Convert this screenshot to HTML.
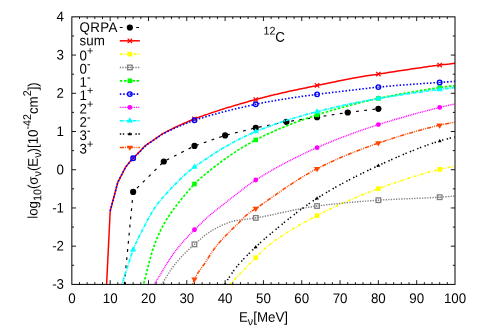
<!DOCTYPE html>
<html><head><meta charset="utf-8"><title>12C</title>
<style>html,body{margin:0;padding:0;background:#fff;}body{width:479px;height:335px;overflow:hidden;position:relative;font-family:"Liberation Sans",sans-serif;}</style>
</head><body>
<svg width="479" height="335" viewBox="0 0 479 335" style="position:absolute;left:0;top:0;will-change:transform">
<defs><clipPath id="cp"><rect x="71.85" y="16.85" width="383.15" height="267.55"/></clipPath></defs>
<rect x="0" y="0" width="479" height="335" fill="#fff"/>
<path d="M79.51 284.4v-2.2M79.51 16.85v2.2M87.18 284.4v-2.2M87.18 16.85v2.2M94.84 284.4v-2.2M94.84 16.85v2.2M102.50 284.4v-2.2M102.50 16.85v2.2M110.16 284.4v-4.2M110.16 16.85v4.2M117.83 284.4v-2.2M117.83 16.85v2.2M125.49 284.4v-2.2M125.49 16.85v2.2M133.15 284.4v-2.2M133.15 16.85v2.2M140.82 284.4v-2.2M140.82 16.85v2.2M148.48 284.4v-4.2M148.48 16.85v4.2M156.14 284.4v-2.2M156.14 16.85v2.2M163.81 284.4v-2.2M163.81 16.85v2.2M171.47 284.4v-2.2M171.47 16.85v2.2M179.13 284.4v-2.2M179.13 16.85v2.2M186.79 284.4v-4.2M186.79 16.85v4.2M194.46 284.4v-2.2M194.46 16.85v2.2M202.12 284.4v-2.2M202.12 16.85v2.2M209.78 284.4v-2.2M209.78 16.85v2.2M217.45 284.4v-2.2M217.45 16.85v2.2M225.11 284.4v-4.2M225.11 16.85v4.2M232.77 284.4v-2.2M232.77 16.85v2.2M240.44 284.4v-2.2M240.44 16.85v2.2M248.10 284.4v-2.2M248.10 16.85v2.2M255.76 284.4v-2.2M255.76 16.85v2.2M263.42 284.4v-4.2M263.42 16.85v4.2M271.09 284.4v-2.2M271.09 16.85v2.2M278.75 284.4v-2.2M278.75 16.85v2.2M286.41 284.4v-2.2M286.41 16.85v2.2M294.08 284.4v-2.2M294.08 16.85v2.2M301.74 284.4v-4.2M301.74 16.85v4.2M309.40 284.4v-2.2M309.40 16.85v2.2M317.07 284.4v-2.2M317.07 16.85v2.2M324.73 284.4v-2.2M324.73 16.85v2.2M332.39 284.4v-2.2M332.39 16.85v2.2M340.05 284.4v-4.2M340.05 16.85v4.2M347.72 284.4v-2.2M347.72 16.85v2.2M355.38 284.4v-2.2M355.38 16.85v2.2M363.04 284.4v-2.2M363.04 16.85v2.2M370.71 284.4v-2.2M370.71 16.85v2.2M378.37 284.4v-4.2M378.37 16.85v4.2M386.03 284.4v-2.2M386.03 16.85v2.2M393.70 284.4v-2.2M393.70 16.85v2.2M401.36 284.4v-2.2M401.36 16.85v2.2M409.02 284.4v-2.2M409.02 16.85v2.2M416.68 284.4v-4.2M416.68 16.85v4.2M424.35 284.4v-2.2M424.35 16.85v2.2M432.01 284.4v-2.2M432.01 16.85v2.2M439.67 284.4v-2.2M439.67 16.85v2.2M447.34 284.4v-2.2M447.34 16.85v2.2M71.85 265.29h2.2M455.0 265.29h-2.2M71.85 246.18h4.2M455.0 246.18h-4.2M71.85 227.07h2.2M455.0 227.07h-2.2M71.85 207.96h4.2M455.0 207.96h-4.2M71.85 188.85h2.2M455.0 188.85h-2.2M71.85 169.74h4.2M455.0 169.74h-4.2M71.85 150.62h2.2M455.0 150.62h-2.2M71.85 131.51h4.2M455.0 131.51h-4.2M71.85 112.40h2.2M455.0 112.40h-2.2M71.85 93.29h4.2M455.0 93.29h-4.2M71.85 74.18h2.2M455.0 74.18h-2.2M71.85 55.07h4.2M455.0 55.07h-4.2M71.85 35.96h2.2M455.0 35.96h-2.2" stroke="#000" stroke-width="0.9" fill="none"/>
<polyline clip-path="url(#cp)" fill="none" stroke-linejoin="round" points="124.3,284.5 133.2,191.9 163.8,161.5 194.5,145.9 225.1,135.4 255.8,127.8 286.4,121.8 317.1,117.2 347.7,112.5 378.4,108.8" stroke="#000" stroke-width="1.2" stroke-dasharray="2.8,5.4"/>
<circle cx="133.15" cy="191.89" r="3.1" fill="#000"/><circle cx="163.81" cy="161.49" r="3.1" fill="#000"/><circle cx="194.46" cy="145.91" r="3.1" fill="#000"/><circle cx="225.11" cy="135.38" r="3.1" fill="#000"/><circle cx="255.76" cy="127.80" r="3.1" fill="#000"/><circle cx="286.41" cy="121.79" r="3.1" fill="#000"/><circle cx="317.07" cy="117.19" r="3.1" fill="#000"/><circle cx="347.72" cy="112.52" r="3.1" fill="#000"/><circle cx="378.37" cy="108.81" r="3.1" fill="#000"/>
<polyline clip-path="url(#cp)" fill="none" stroke-linejoin="round" points="102.5,361.1 106.6,284.5 110.2,211.0 117.8,182.3 125.5,167.3 127.4,164.9 129.3,162.6 131.2,160.3 133.2,158.2 135.1,156.2 137.0,154.3 138.9,152.4 140.8,150.5 142.7,148.3 144.6,146.3 146.6,144.7 148.5,143.3 150.4,142.1 152.3,140.9 154.2,139.5 156.1,138.2 158.1,136.8 160.0,135.5 161.9,134.2 163.8,133.1 165.7,132.1 167.6,131.1 169.6,130.1 171.5,129.1 173.4,128.2 175.3,127.3 177.2,126.4 179.1,125.5 181.0,124.7 183.0,123.8 184.9,123.0 186.8,122.2 188.7,121.3 190.6,120.5 192.5,119.7 194.5,118.9 196.4,118.2 198.3,117.5 200.2,116.8 202.1,116.1 204.0,115.4 206.0,114.7 207.9,114.1 209.8,113.4 211.7,112.8 213.6,112.1 215.5,111.5 217.4,110.9 219.4,110.2 221.3,109.6 223.2,109.0 225.1,108.4 227.0,107.8 228.9,107.2 230.9,106.7 232.8,106.1 234.7,105.5 236.6,104.9 238.5,104.4 240.4,103.8 242.4,103.3 244.3,102.7 246.2,102.2 248.1,101.6 250.0,101.1 251.9,100.6 253.8,100.0 255.8,99.5 257.7,99.0 259.6,98.5 261.5,98.0 263.4,97.5 265.3,97.0 267.3,96.5 269.2,96.0 271.1,95.5 273.0,95.1 274.9,94.6 276.8,94.2 278.8,93.7 280.7,93.3 282.6,92.8 284.5,92.4 286.4,92.0 288.3,91.5 290.2,91.1 292.2,90.7 294.1,90.3 296.0,89.9 297.9,89.5 299.8,89.1 301.7,88.7 303.7,88.3 305.6,87.9 307.5,87.5 309.4,87.1 311.3,86.7 313.2,86.3 315.2,85.9 317.1,85.5 319.0,85.1 320.9,84.7 322.8,84.3 324.7,83.9 326.6,83.5 328.6,83.1 330.5,82.7 332.4,82.3 334.3,81.9 336.2,81.5 338.1,81.1 340.1,80.7 342.0,80.3 343.9,79.9 345.8,79.5 347.7,79.2 349.6,78.8 351.5,78.4 353.5,78.1 355.4,77.7 357.3,77.4 359.2,77.1 361.1,76.7 363.0,76.4 365.0,76.1 366.9,75.8 368.8,75.5 370.7,75.2 372.6,74.9 374.5,74.7 376.5,74.4 378.4,74.1 380.3,73.8 382.2,73.5 384.1,73.2 386.0,72.9 387.9,72.6 389.9,72.3 391.8,72.0 393.7,71.7 395.6,71.4 397.5,71.1 399.4,70.8 401.4,70.6 403.3,70.3 405.2,70.0 407.1,69.7 409.0,69.4 410.9,69.1 412.9,68.8 414.8,68.5 416.7,68.2 418.6,68.0 420.5,67.7 422.4,67.4 424.3,67.1 426.3,66.9 428.2,66.6 430.1,66.3 432.0,66.1 433.9,65.8 435.8,65.6 437.8,65.3 439.7,65.1 441.6,64.8 443.5,64.6 445.4,64.4 447.3,64.2 449.3,64.0 451.2,63.7 453.1,63.5 455.0,63.3" stroke="#ff0000" stroke-width="1.5"/>
<path d="M130.95 155.96L135.35 160.36M130.95 160.36L135.35 155.96" stroke="#ff0000" stroke-width="1.2" fill="none"/><path d="M192.26 116.71L196.66 121.11M192.26 121.11L196.66 116.71" stroke="#ff0000" stroke-width="1.2" fill="none"/><path d="M253.56 97.30L257.96 101.70M253.56 101.70L257.96 97.30" stroke="#ff0000" stroke-width="1.2" fill="none"/><path d="M314.87 83.29L319.27 87.69M314.87 87.69L319.27 83.29" stroke="#ff0000" stroke-width="1.2" fill="none"/><path d="M376.17 71.88L380.57 76.28M376.17 76.28L380.57 71.88" stroke="#ff0000" stroke-width="1.2" fill="none"/><path d="M437.47 62.88L441.87 67.28M437.47 67.28L441.87 62.88" stroke="#ff0000" stroke-width="1.2" fill="none"/>
<polyline clip-path="url(#cp)" fill="none" stroke-linejoin="round" points="214.8,299.8 216.7,297.8 218.7,295.9 220.6,293.9 222.5,291.9 224.4,290.0 226.3,288.0 228.2,286.0 230.1,284.0 232.1,282.1 234.0,280.1 235.9,278.1 237.8,276.1 239.7,274.1 241.6,272.1 243.6,270.1 245.5,268.2 247.4,266.2 249.3,264.2 251.2,262.3 253.1,260.3 255.1,258.4 257.0,256.5 258.9,254.5 260.8,252.6 262.7,250.6 264.6,248.8 266.5,247.1 268.5,245.6 270.4,244.1 272.3,242.6 274.2,241.2 276.1,239.8 278.0,238.5 280.0,237.2 281.9,235.9 283.8,234.6 285.7,233.3 287.6,232.1 289.5,230.9 291.4,229.8 293.4,228.6 295.3,227.5 297.2,226.4 299.1,225.3 301.0,224.2 302.9,223.1 304.9,222.1 306.8,221.0 308.7,220.0 310.6,219.0 312.5,218.0 314.4,216.9 316.4,216.0 318.3,215.0 320.2,214.0 322.1,213.0 324.0,212.1 325.9,211.1 327.8,210.2 329.8,209.2 331.7,208.3 333.6,207.4 335.5,206.5 337.4,205.6 339.3,204.7 341.3,203.9 343.2,203.0 345.1,202.1 347.0,201.3 348.9,200.5 350.8,199.6 352.8,198.8 354.7,198.0 356.6,197.2 358.5,196.4 360.4,195.6 362.3,194.8 364.2,194.1 366.2,193.3 368.1,192.6 370.0,191.8 371.9,191.1 373.8,190.4 375.7,189.6 377.7,188.9 379.6,188.2 381.5,187.5 383.4,186.8 385.3,186.1 387.2,185.5 389.2,184.8 391.1,184.1 393.0,183.4 394.9,182.8 396.8,182.1 398.7,181.5 400.6,180.8 402.6,180.2 404.5,179.6 406.4,178.9 408.3,178.3 410.2,177.7 412.1,177.1 414.1,176.5 416.0,175.9 417.9,175.3 419.8,174.8 421.7,174.2 423.6,173.6 425.6,173.1 427.5,172.6 429.4,172.0 431.3,171.5 433.2,171.0 435.1,170.5 437.0,170.0 439.0,169.5 440.9,169.1 442.8,168.6 444.7,168.2 446.6,167.8 448.5,167.4 450.5,167.0 452.4,166.6 454.3,166.3 455.0,166.1" stroke="#ffff00" stroke-width="1.6" stroke-dasharray="3,1.5,1,1.5"/>
<rect x="253.46" y="255.40" width="4.6" height="4.6" fill="#ffff00"/><rect x="314.77" y="213.29" width="4.6" height="4.6" fill="#ffff00"/><rect x="376.07" y="186.37" width="4.6" height="4.6" fill="#ffff00"/><rect x="437.37" y="167.07" width="4.6" height="4.6" fill="#ffff00"/>
<polyline clip-path="url(#cp)" fill="none" stroke-linejoin="round" points="151.3,299.8 153.2,296.9 155.1,294.1 157.0,291.2 159.0,288.3 160.9,285.5 162.8,282.6 164.7,279.6 166.6,276.5 168.5,273.5 170.4,270.5 172.4,267.7 174.3,265.1 176.2,262.7 178.1,260.5 180.0,258.4 181.9,256.3 183.9,254.3 185.8,252.4 187.7,250.5 189.6,248.8 191.5,247.0 193.4,245.3 195.4,243.6 197.3,241.9 199.2,240.2 201.1,238.6 203.0,237.0 204.9,235.4 206.8,234.0 208.8,232.6 210.7,231.3 212.6,230.2 214.5,229.1 216.4,228.0 218.3,227.0 220.3,226.1 222.2,225.1 224.1,224.3 226.0,223.5 227.9,222.7 229.8,222.1 231.8,221.6 233.7,221.1 235.6,220.7 237.5,220.4 239.4,220.1 241.3,219.8 243.2,219.6 245.2,219.3 247.1,219.1 249.0,218.8 250.9,218.6 252.8,218.3 254.7,218.0 256.7,217.7 258.6,217.4 260.5,217.1 262.4,216.7 264.3,216.3 266.2,216.0 268.2,215.6 270.1,215.2 272.0,214.8 273.9,214.4 275.8,214.0 277.7,213.5 279.6,213.1 281.6,212.7 283.5,212.3 285.4,211.9 287.3,211.5 289.2,211.0 291.1,210.6 293.1,210.2 295.0,209.8 296.9,209.4 298.8,209.1 300.7,208.7 302.6,208.3 304.5,208.0 306.5,207.6 308.4,207.3 310.3,207.0 312.2,206.7 314.1,206.4 316.0,206.1 318.0,205.9 319.9,205.7 321.8,205.4 323.7,205.2 325.6,205.0 327.5,204.7 329.5,204.5 331.4,204.3 333.3,204.1 335.2,203.9 337.1,203.7 339.0,203.5 340.9,203.3 342.9,203.1 344.8,202.9 346.7,202.7 348.6,202.5 350.5,202.4 352.4,202.2 354.4,202.0 356.3,201.9 358.2,201.7 360.1,201.5 362.0,201.4 363.9,201.2 365.9,201.1 367.8,200.9 369.7,200.8 371.6,200.7 373.5,200.5 375.4,200.4 377.3,200.3 379.3,200.1 381.2,200.0 383.1,199.9 385.0,199.8 386.9,199.7 388.8,199.6 390.8,199.5 392.7,199.4 394.6,199.3 396.5,199.2 398.4,199.1 400.3,199.0 402.3,199.0 404.2,198.9 406.1,198.8 408.0,198.7 409.9,198.6 411.8,198.6 413.7,198.5 415.7,198.4 417.6,198.3 419.5,198.2 421.4,198.2 423.3,198.1 425.2,198.0 427.2,197.9 429.1,197.8 431.0,197.7 432.9,197.6 434.8,197.5 436.7,197.4 438.7,197.3 440.6,197.2 442.5,197.0 444.4,196.9 446.3,196.7 448.2,196.6 450.1,196.4 452.1,196.3 454.0,196.1 455.0,196.1" stroke="#808080" stroke-width="1.4" stroke-dasharray="1.3,1.3"/>
<rect x="192.16" y="242.08" width="4.6" height="4.6" fill="none" stroke="#808080" stroke-width="1.3"/><circle cx="194.46" cy="244.38" r="0.6" fill="#808080"/><rect x="253.46" y="215.58" width="4.6" height="4.6" fill="none" stroke="#808080" stroke-width="1.3"/><circle cx="255.76" cy="217.88" r="0.6" fill="#808080"/><rect x="314.77" y="203.71" width="4.6" height="4.6" fill="none" stroke="#808080" stroke-width="1.3"/><circle cx="317.07" cy="206.01" r="0.6" fill="#808080"/><rect x="376.07" y="197.89" width="4.6" height="4.6" fill="none" stroke="#808080" stroke-width="1.3"/><circle cx="378.37" cy="200.19" r="0.6" fill="#808080"/><rect x="437.37" y="194.91" width="4.6" height="4.6" fill="none" stroke="#808080" stroke-width="1.3"/><circle cx="439.67" cy="197.21" r="0.6" fill="#808080"/>
<polyline clip-path="url(#cp)" fill="none" stroke-linejoin="round" points="139.6,299.8 141.5,292.3 143.4,284.7 145.4,277.1 147.3,269.4 149.2,262.1 151.1,255.3 153.0,249.0 154.9,243.7 156.8,238.8 158.8,234.2 160.7,230.1 162.6,226.4 164.5,223.0 166.4,219.8 168.3,216.9 170.3,214.0 172.2,211.3 174.1,208.6 176.0,206.0 177.9,203.6 179.8,201.2 181.8,198.8 183.7,196.5 185.6,194.2 187.5,191.9 189.4,189.6 191.3,187.4 193.2,185.3 195.2,183.3 197.1,181.3 199.0,179.5 200.9,177.9 202.8,176.3 204.7,174.7 206.7,173.1 208.6,171.5 210.5,170.0 212.4,168.5 214.3,167.0 216.2,165.5 218.2,164.1 220.1,162.6 222.0,161.2 223.9,159.8 225.8,158.4 227.7,157.1 229.6,155.7 231.6,154.4 233.5,153.1 235.4,151.9 237.3,150.6 239.2,149.4 241.1,148.2 243.1,147.0 245.0,145.9 246.9,144.8 248.8,143.7 250.7,142.6 252.6,141.5 254.5,140.5 256.5,139.5 258.4,138.6 260.3,137.6 262.2,136.7 264.1,135.7 266.0,134.8 268.0,133.9 269.9,133.0 271.8,132.2 273.7,131.3 275.6,130.4 277.5,129.6 279.5,128.8 281.4,128.0 283.3,127.2 285.2,126.4 287.1,125.6 289.0,124.9 290.9,124.1 292.9,123.4 294.8,122.7 296.7,122.0 298.6,121.2 300.5,120.5 302.4,119.9 304.4,119.2 306.3,118.5 308.2,117.8 310.1,117.2 312.0,116.6 313.9,115.9 315.9,115.3 317.8,114.7 319.7,114.1 321.6,113.4 323.5,112.8 325.4,112.2 327.3,111.7 329.3,111.1 331.2,110.5 333.1,109.9 335.0,109.4 336.9,108.8 338.8,108.3 340.8,107.7 342.7,107.2 344.6,106.7 346.5,106.1 348.4,105.6 350.3,105.1 352.3,104.6 354.2,104.1 356.1,103.6 358.0,103.1 359.9,102.7 361.8,102.2 363.7,101.7 365.7,101.3 367.6,100.8 369.5,100.4 371.4,100.0 373.3,99.5 375.2,99.1 377.2,98.7 379.1,98.3 381.0,97.9 382.9,97.5 384.8,97.1 386.7,96.7 388.7,96.3 390.6,95.9 392.5,95.6 394.4,95.2 396.3,94.8 398.2,94.5 400.1,94.1 402.1,93.7 404.0,93.4 405.9,93.0 407.8,92.7 409.7,92.4 411.6,92.0 413.6,91.7 415.5,91.4 417.4,91.1 419.3,90.7 421.2,90.4 423.1,90.1 425.1,89.8 427.0,89.5 428.9,89.2 430.8,88.9 432.7,88.6 434.6,88.3 436.5,88.1 438.5,87.8 440.4,87.5 442.3,87.2 444.2,87.0 446.1,86.7 448.0,86.5 450.0,86.2 451.9,86.0 453.8,85.8 455.0,85.6" stroke="#00ff00" stroke-width="1.7" stroke-dasharray="2.6,1.6"/>
<rect x="192.16" y="181.70" width="4.6" height="4.6" fill="#00ff00"/><rect x="253.46" y="137.59" width="4.6" height="4.6" fill="#00ff00"/><rect x="314.77" y="112.59" width="4.6" height="4.6" fill="#00ff00"/><rect x="376.07" y="96.13" width="4.6" height="4.6" fill="#00ff00"/><rect x="437.37" y="85.30" width="4.6" height="4.6" fill="#00ff00"/>
<polyline clip-path="url(#cp)" fill="none" stroke-linejoin="round" points="110.2,211.0 117.8,182.3 125.5,167.3 127.4,165.0 129.3,162.6 131.2,160.4 133.2,158.3 135.1,156.3 137.0,154.5 138.9,152.6 140.8,150.7 142.7,148.6 144.6,146.6 146.6,145.0 148.5,143.6 150.4,142.4 152.3,141.1 154.2,139.8 156.1,138.5 158.1,137.1 160.0,135.8 161.9,134.6 163.8,133.5 165.7,132.5 167.6,131.5 169.6,130.6 171.5,129.7 173.4,128.8 175.3,127.9 177.2,127.1 179.1,126.2 181.0,125.4 183.0,124.7 184.9,123.9 186.8,123.1 188.7,122.4 190.6,121.6 192.5,120.9 194.5,120.3 196.4,119.6 198.3,119.0 200.2,118.4 202.1,117.9 204.0,117.3 206.0,116.7 207.9,116.1 209.8,115.6 211.7,115.1 213.6,114.5 215.5,114.0 217.4,113.5 219.4,112.9 221.3,112.4 223.2,111.9 225.1,111.4 227.0,111.0 228.9,110.5 230.9,110.0 232.8,109.5 234.7,109.1 236.6,108.6 238.5,108.1 240.4,107.7 242.4,107.3 244.3,106.8 246.2,106.4 248.1,106.0 250.0,105.5 251.9,105.1 253.8,104.7 255.8,104.3 257.7,103.9 259.6,103.5 261.5,103.1 263.4,102.7 265.3,102.3 267.3,102.0 269.2,101.6 271.1,101.3 273.0,100.9 274.9,100.6 276.8,100.2 278.8,99.9 280.7,99.6 282.6,99.3 284.5,99.0 286.4,98.7 288.3,98.4 290.2,98.1 292.2,97.8 294.1,97.5 296.0,97.3 297.9,97.0 299.8,96.7 301.7,96.4 303.7,96.2 305.6,95.9 307.5,95.6 309.4,95.4 311.3,95.1 313.2,94.9 315.2,94.6 317.1,94.4 319.0,94.1 320.9,93.9 322.8,93.6 324.7,93.4 326.6,93.1 328.6,92.9 330.5,92.7 332.4,92.4 334.3,92.2 336.2,92.0 338.1,91.8 340.1,91.5 342.0,91.3 343.9,91.1 345.8,90.9 347.7,90.6 349.6,90.4 351.5,90.2 353.5,90.0 355.4,89.7 357.3,89.5 359.2,89.3 361.1,89.1 363.0,88.8 365.0,88.6 366.9,88.4 368.8,88.1 370.7,87.9 372.6,87.7 374.5,87.5 376.5,87.3 378.4,87.1 380.3,86.9 382.2,86.7 384.1,86.6 386.0,86.4 387.9,86.2 389.9,86.1 391.8,85.9 393.7,85.7 395.6,85.6 397.5,85.4 399.4,85.3 401.4,85.1 403.3,85.0 405.2,84.8 407.1,84.7 409.0,84.5 410.9,84.4 412.9,84.3 414.8,84.1 416.7,84.0 418.6,83.9 420.5,83.7 422.4,83.6 424.3,83.4 426.3,83.3 428.2,83.2 430.1,83.1 432.0,82.9 433.9,82.8 435.8,82.7 437.8,82.5 439.7,82.4 441.6,82.3 443.5,82.1 445.4,82.0 447.3,81.9 449.3,81.8 451.2,81.6 453.1,81.5 455.0,81.4" stroke="#0000ff" stroke-width="1.6" stroke-dasharray="1.5,1.9"/>
<circle cx="133.15" cy="158.31" r="2.25" fill="none" stroke="#0000ff" stroke-width="1.45"/><circle cx="133.15" cy="158.31" r="0.6" fill="#0000ff"/><circle cx="194.46" cy="120.25" r="2.25" fill="none" stroke="#0000ff" stroke-width="1.45"/><circle cx="194.46" cy="120.25" r="0.6" fill="#0000ff"/><circle cx="255.76" cy="104.29" r="2.25" fill="none" stroke="#0000ff" stroke-width="1.45"/><circle cx="255.76" cy="104.29" r="0.6" fill="#0000ff"/><circle cx="317.07" cy="94.37" r="2.25" fill="none" stroke="#0000ff" stroke-width="1.45"/><circle cx="317.07" cy="94.37" r="0.6" fill="#0000ff"/><circle cx="378.37" cy="87.10" r="2.25" fill="none" stroke="#0000ff" stroke-width="1.45"/><circle cx="378.37" cy="87.10" r="0.6" fill="#0000ff"/><circle cx="439.67" cy="82.39" r="2.25" fill="none" stroke="#0000ff" stroke-width="1.45"/><circle cx="439.67" cy="82.39" r="0.6" fill="#0000ff"/>
<polyline clip-path="url(#cp)" fill="none" stroke-linejoin="round" points="144.5,299.8 146.5,296.8 148.4,293.8 150.3,290.7 152.2,287.7 154.1,284.7 156.0,281.6 157.9,278.5 159.9,275.3 161.8,272.1 163.7,268.9 165.6,265.7 167.5,262.6 169.4,259.6 171.4,256.7 173.3,253.9 175.2,251.3 177.1,248.9 179.0,246.5 180.9,244.2 182.9,242.0 184.8,239.9 186.7,237.8 188.6,235.8 190.5,233.8 192.4,231.8 194.3,229.9 196.3,227.9 198.2,226.0 200.1,224.2 202.0,222.4 203.9,220.6 205.8,218.8 207.8,217.1 209.7,215.4 211.6,213.8 213.5,212.2 215.4,210.6 217.3,209.1 219.3,207.6 221.2,206.1 223.1,204.6 225.0,203.2 226.9,201.7 228.8,200.1 230.7,198.6 232.7,197.1 234.6,195.6 236.5,194.1 238.4,192.5 240.3,191.1 242.2,189.6 244.2,188.1 246.1,186.7 248.0,185.3 249.9,183.9 251.8,182.6 253.7,181.3 255.7,180.0 257.6,178.8 259.5,177.7 261.4,176.5 263.3,175.3 265.2,174.2 267.1,173.0 269.1,171.9 271.0,170.8 272.9,169.7 274.8,168.6 276.7,167.5 278.6,166.5 280.6,165.4 282.5,164.4 284.4,163.4 286.3,162.4 288.2,161.4 290.1,160.4 292.1,159.4 294.0,158.4 295.9,157.5 297.8,156.6 299.7,155.6 301.6,154.7 303.5,153.8 305.5,152.9 307.4,152.0 309.3,151.1 311.2,150.2 313.1,149.4 315.0,148.5 317.0,147.7 318.9,146.8 320.8,146.0 322.7,145.2 324.6,144.4 326.5,143.6 328.5,142.8 330.4,142.0 332.3,141.2 334.2,140.4 336.1,139.7 338.0,138.9 339.9,138.2 341.9,137.4 343.8,136.7 345.7,136.0 347.6,135.3 349.5,134.6 351.4,133.8 353.4,133.1 355.3,132.5 357.2,131.8 359.1,131.1 361.0,130.4 362.9,129.8 364.8,129.1 366.8,128.4 368.7,127.8 370.6,127.2 372.5,126.5 374.4,125.9 376.3,125.3 378.3,124.7 380.2,124.0 382.1,123.4 384.0,122.8 385.9,122.2 387.8,121.6 389.8,121.1 391.7,120.5 393.6,119.9 395.5,119.3 397.4,118.8 399.3,118.2 401.2,117.7 403.2,117.1 405.1,116.6 407.0,116.0 408.9,115.5 410.8,115.0 412.7,114.4 414.7,113.9 416.6,113.4 418.5,112.9 420.4,112.4 422.3,111.9 424.2,111.4 426.2,110.9 428.1,110.4 430.0,109.9 431.9,109.4 433.8,108.9 435.7,108.4 437.6,107.9 439.6,107.5 441.5,107.0 443.4,106.5 445.3,106.1 447.2,105.6 449.1,105.2 451.1,104.8 453.0,104.4 454.9,103.9 455.0,103.9" stroke="#ff00ff" stroke-width="1.4" stroke-dasharray="1,0.8"/>
<circle cx="194.46" cy="229.75" r="2.4" fill="#ff00ff"/><circle cx="255.76" cy="179.98" r="2.4" fill="#ff00ff"/><circle cx="317.07" cy="147.63" r="2.4" fill="#ff00ff"/><circle cx="378.37" cy="124.62" r="2.4" fill="#ff00ff"/><circle cx="439.67" cy="107.43" r="2.4" fill="#ff00ff"/>
<polyline clip-path="url(#cp)" fill="none" stroke-linejoin="round" points="117.1,299.8 119.0,293.8 120.9,287.7 122.8,281.7 124.7,275.6 126.7,269.5 128.6,263.5 130.5,257.5 132.4,251.7 134.3,246.8 136.2,242.4 138.2,238.4 140.1,234.5 142.0,230.9 143.9,227.2 145.8,223.6 147.7,220.0 149.6,216.4 151.6,212.9 153.5,209.7 155.4,206.8 157.3,204.1 159.2,201.7 161.1,199.4 163.1,197.2 165.0,195.1 166.9,193.1 168.8,191.0 170.7,189.0 172.6,186.9 174.6,184.9 176.5,182.9 178.4,181.0 180.3,179.1 182.2,177.3 184.1,175.5 186.0,173.8 188.0,172.1 189.9,170.5 191.8,168.9 193.7,167.5 195.6,166.1 197.5,164.7 199.5,163.4 201.4,162.1 203.3,160.7 205.2,159.5 207.1,158.2 209.0,156.9 211.0,155.7 212.9,154.4 214.8,153.2 216.7,152.0 218.6,150.8 220.5,149.7 222.4,148.5 224.4,147.4 226.3,146.3 228.2,145.2 230.1,144.1 232.0,143.0 233.9,142.0 235.9,141.0 237.8,140.0 239.7,139.0 241.6,138.1 243.5,137.1 245.4,136.2 247.3,135.3 249.3,134.4 251.2,133.6 253.1,132.7 255.0,131.9 256.9,131.1 258.8,130.3 260.8,129.6 262.7,128.8 264.6,128.1 266.5,127.3 268.4,126.6 270.3,125.9 272.3,125.2 274.2,124.5 276.1,123.8 278.0,123.2 279.9,122.5 281.8,121.9 283.7,121.3 285.7,120.6 287.6,120.0 289.5,119.4 291.4,118.8 293.3,118.3 295.2,117.7 297.2,117.1 299.1,116.6 301.0,116.0 302.9,115.5 304.8,114.9 306.7,114.4 308.7,113.9 310.6,113.4 312.5,112.8 314.4,112.3 316.3,111.8 318.2,111.3 320.1,110.9 322.1,110.4 324.0,109.9 325.9,109.4 327.8,109.0 329.7,108.5 331.6,108.0 333.6,107.6 335.5,107.1 337.4,106.7 339.3,106.3 341.2,105.9 343.1,105.4 345.1,105.0 347.0,104.6 348.9,104.2 350.8,103.8 352.7,103.4 354.6,103.0 356.5,102.6 358.5,102.2 360.4,101.8 362.3,101.5 364.2,101.1 366.1,100.7 368.0,100.4 370.0,100.0 371.9,99.7 373.8,99.3 375.7,99.0 377.6,98.6 379.5,98.3 381.5,98.0 383.4,97.6 385.3,97.3 387.2,97.0 389.1,96.7 391.0,96.4 392.9,96.1 394.9,95.8 396.8,95.5 398.7,95.2 400.6,94.9 402.5,94.6 404.4,94.3 406.4,94.0 408.3,93.7 410.2,93.4 412.1,93.1 414.0,92.9 415.9,92.6 417.9,92.3 419.8,92.1 421.7,91.8 423.6,91.5 425.5,91.3 427.4,91.0 429.3,90.7 431.3,90.5 433.2,90.2 435.1,90.0 437.0,89.7 438.9,89.5 440.8,89.2 442.8,89.0 444.7,88.8 446.6,88.6 448.5,88.3 450.4,88.1 452.3,87.9 454.3,87.7 455.0,87.6" stroke="#00ffff" stroke-width="1.7" stroke-dasharray="3.8,0.9,0.9,0.9"/>
<path d="M133.15 246.21L136.35 251.41L129.95 251.41Z" fill="#00ffff"/><path d="M194.46 163.47L197.66 168.67L191.26 168.67Z" fill="#00ffff"/><path d="M255.76 128.14L258.96 133.34L252.56 133.34Z" fill="#00ffff"/><path d="M317.07 108.19L320.27 113.39L313.87 113.39Z" fill="#00ffff"/><path d="M378.37 95.06L381.57 100.26L375.17 100.26Z" fill="#00ffff"/><path d="M439.67 85.95L442.87 91.15L436.47 91.15Z" fill="#00ffff"/>
<polyline clip-path="url(#cp)" fill="none" stroke-linejoin="round" points="214.6,299.8 216.5,296.9 218.5,294.0 220.4,291.1 222.3,288.2 224.2,285.3 226.1,282.3 228.0,279.3 230.0,276.2 231.9,273.3 233.8,270.5 235.7,268.0 237.6,265.7 239.5,263.4 241.5,261.3 243.4,259.2 245.3,257.2 247.2,255.3 249.1,253.4 251.0,251.5 252.9,249.7 254.9,247.8 256.8,246.0 258.7,244.2 260.6,242.4 262.5,240.7 264.4,239.0 266.4,237.3 268.3,235.7 270.2,234.1 272.1,232.5 274.0,230.9 275.9,229.3 277.9,227.7 279.8,226.1 281.7,224.6 283.6,223.0 285.5,221.4 287.4,219.9 289.3,218.4 291.3,216.9 293.2,215.4 295.1,213.9 297.0,212.4 298.9,211.0 300.8,209.5 302.8,208.1 304.7,206.8 306.6,205.4 308.5,204.0 310.4,202.7 312.3,201.4 314.3,200.2 316.2,198.9 318.1,197.7 320.0,196.5 321.9,195.3 323.8,194.2 325.7,193.0 327.7,191.9 329.6,190.7 331.5,189.6 333.4,188.5 335.3,187.4 337.2,186.3 339.2,185.3 341.1,184.2 343.0,183.2 344.9,182.1 346.8,181.1 348.7,180.1 350.7,179.1 352.6,178.1 354.5,177.1 356.4,176.2 358.3,175.2 360.2,174.3 362.1,173.3 364.1,172.4 366.0,171.4 367.9,170.5 369.8,169.6 371.7,168.7 373.6,167.8 375.6,166.9 377.5,166.0 379.4,165.2 381.3,164.3 383.2,163.4 385.1,162.5 387.1,161.7 389.0,160.8 390.9,159.9 392.8,159.1 394.7,158.2 396.6,157.4 398.5,156.6 400.5,155.7 402.4,154.9 404.3,154.1 406.2,153.3 408.1,152.5 410.0,151.7 412.0,150.9 413.9,150.2 415.8,149.4 417.7,148.6 419.6,147.9 421.5,147.2 423.5,146.5 425.4,145.8 427.3,145.1 429.2,144.4 431.1,143.8 433.0,143.1 434.9,142.5 436.9,141.9 438.8,141.3 440.7,140.7 442.6,140.1 444.5,139.6 446.4,139.1 448.4,138.6 450.3,138.1 452.2,137.7 454.1,137.2 455.0,137.0" stroke="#000000" stroke-width="1.5" stroke-dasharray="1.4,1.6,1.4,3.4"/>
<path d="M255.76 244.98L257.66 248.18L253.86 248.18Z" fill="#000000"/><path d="M317.07 196.36L318.97 199.56L315.17 199.56Z" fill="#000000"/><path d="M378.37 163.62L380.27 166.82L376.47 166.82Z" fill="#000000"/><path d="M439.67 139.01L441.57 142.21L437.77 142.21Z" fill="#000000"/>
<polyline clip-path="url(#cp)" fill="none" stroke-linejoin="round" points="187.1,299.8 189.0,294.5 190.9,289.1 192.8,283.7 194.7,278.6 196.6,275.0 198.6,271.9 200.5,269.2 202.4,266.6 204.3,264.0 206.2,261.1 208.1,258.1 210.1,255.0 212.0,252.1 213.9,249.3 215.8,246.7 217.7,244.4 219.6,242.2 221.6,240.1 223.5,238.0 225.4,236.0 227.3,234.0 229.2,232.1 231.1,230.2 233.0,228.4 235.0,226.5 236.9,224.7 238.8,222.8 240.7,220.8 242.6,218.7 244.5,216.8 246.5,215.1 248.4,213.6 250.3,212.2 252.2,210.9 254.1,209.7 256.0,208.4 258.0,207.1 259.9,205.8 261.8,204.4 263.7,203.1 265.6,201.8 267.5,200.4 269.4,199.1 271.4,197.8 273.3,196.4 275.2,195.1 277.1,193.7 279.0,192.4 280.9,191.1 282.9,189.7 284.8,188.4 286.7,187.1 288.6,185.8 290.5,184.6 292.4,183.3 294.4,182.0 296.3,180.8 298.2,179.6 300.1,178.4 302.0,177.2 303.9,176.0 305.8,174.9 307.8,173.8 309.7,172.7 311.6,171.6 313.5,170.5 315.4,169.5 317.3,168.5 319.3,167.6 321.2,166.6 323.1,165.7 325.0,164.8 326.9,163.8 328.8,162.9 330.7,162.0 332.7,161.2 334.6,160.3 336.5,159.4 338.4,158.6 340.3,157.8 342.2,156.9 344.2,156.1 346.1,155.3 348.0,154.5 349.9,153.7 351.8,153.0 353.7,152.2 355.7,151.4 357.6,150.7 359.5,150.0 361.4,149.2 363.3,148.5 365.2,147.8 367.1,147.1 369.1,146.4 371.0,145.7 372.9,145.0 374.8,144.3 376.7,143.7 378.6,143.0 380.6,142.4 382.5,141.7 384.4,141.1 386.3,140.4 388.2,139.8 390.1,139.2 392.1,138.5 394.0,137.9 395.9,137.3 397.8,136.7 399.7,136.1 401.6,135.5 403.5,134.9 405.5,134.4 407.4,133.8 409.3,133.2 411.2,132.7 413.1,132.1 415.0,131.6 417.0,131.0 418.9,130.5 420.8,130.0 422.7,129.4 424.6,128.9 426.5,128.4 428.5,127.9 430.4,127.5 432.3,127.0 434.2,126.5 436.1,126.1 438.0,125.6 439.9,125.2 441.9,124.7 443.8,124.3 445.7,123.9 447.6,123.6 449.5,123.2 451.4,122.8 453.4,122.5 455.0,122.2" stroke="#ff4500" stroke-width="1.5" stroke-dasharray="4.2,1.1,0.9,1.1,0.9,1.1"/>
<path d="M194.46 282.59L197.66 277.39L191.26 277.39Z" fill="#ff4500"/><path d="M255.76 212.03L258.96 206.83L252.56 206.83Z" fill="#ff4500"/><path d="M317.07 172.14L320.27 166.94L313.87 166.94Z" fill="#ff4500"/><path d="M378.37 146.56L381.57 141.36L375.17 141.36Z" fill="#ff4500"/><path d="M439.67 128.68L442.87 123.48L436.47 123.48Z" fill="#ff4500"/>
<rect x="71.85" y="16.85" width="383.15" height="267.54999999999995" fill="none" stroke="#000" stroke-width="1"/>
<path d="M119.8 27.5H139.9" stroke="#000" stroke-width="1.2" stroke-dasharray="2.8,5.4" stroke-dashoffset="0"/>
<rect x="125.25" y="23.5" width="9.2" height="8" fill="#fff"/>
<circle cx="129.85" cy="27.50" r="3.1" fill="#000"/>
<path d="M119.8 40.82H139.9" stroke="#ff0000" stroke-width="1.5" fill="none"/>
<path d="M127.65 38.62L132.05 43.02M127.65 43.02L132.05 38.62" stroke="#ff0000" stroke-width="1.2" fill="none"/>
<path d="M119.8 54.14H139.9" stroke="#ffff00" stroke-width="1.6" fill="none" stroke-dasharray="3,1.5,1,1.5"/>
<rect x="127.55" y="51.84" width="4.6" height="4.6" fill="#ffff00"/>
<path d="M119.8 67.46000000000001H139.9" stroke="#808080" stroke-width="1.4" fill="none" stroke-dasharray="1.3,1.3"/>
<rect x="127.55" y="65.16" width="4.6" height="4.6" fill="none" stroke="#808080" stroke-width="1.3"/><circle cx="129.85" cy="67.46" r="0.6" fill="#808080"/>
<path d="M119.8 80.78H139.9" stroke="#00ff00" stroke-width="1.7" fill="none" stroke-dasharray="2.6,1.6"/>
<rect x="127.55" y="78.48" width="4.6" height="4.6" fill="#00ff00"/>
<path d="M119.8 94.1H139.9" stroke="#0000ff" stroke-width="1.6" fill="none" stroke-dasharray="1.5,1.9"/>
<circle cx="129.85" cy="94.10" r="2.25" fill="none" stroke="#0000ff" stroke-width="1.45"/><circle cx="129.85" cy="94.10" r="0.6" fill="#0000ff"/>
<path d="M119.8 107.42H139.9" stroke="#ff00ff" stroke-width="1.4" fill="none" stroke-dasharray="1,0.8"/>
<circle cx="129.85" cy="107.42" r="2.4" fill="#ff00ff"/>
<path d="M119.8 120.74000000000001H139.9" stroke="#00ffff" stroke-width="1.7" fill="none" stroke-dasharray="3.8,0.9,0.9,0.9"/>
<path d="M129.85 117.29L133.05 122.49L126.65 122.49Z" fill="#00ffff"/>
<path d="M119.8 134.06H139.9" stroke="#000000" stroke-width="1.5" fill="none" stroke-dasharray="1.4,1.6,1.4,3.4"/>
<path d="M129.85 132.06L131.75 135.26L127.95 135.26Z" fill="#000000"/>
<path d="M119.8 147.38H139.9" stroke="#ff4500" stroke-width="1.5" fill="none" stroke-dasharray="4.2,1.1,0.9,1.1,0.9,1.1"/>
<path d="M129.85 150.83L133.05 145.63L126.65 145.63Z" fill="#ff4500"/>
<g font-family="'Liberation Sans', sans-serif" fill="#000"><text transform="translate(64.0 21.30) rotate(0.1) scale(1 1.05)" font-size="13.33" text-anchor="end">4</text><text transform="translate(64.0 59.52) rotate(0.1) scale(1 1.05)" font-size="13.33" text-anchor="end">3</text><text transform="translate(64.0 97.74) rotate(0.1) scale(1 1.05)" font-size="13.33" text-anchor="end">2</text><text transform="translate(64.0 135.96) rotate(0.1) scale(1 1.05)" font-size="13.33" text-anchor="end">1</text><text transform="translate(64.0 174.19) rotate(0.1) scale(1 1.05)" font-size="13.33" text-anchor="end">0</text><text transform="translate(64.0 212.41) rotate(0.1) scale(1 1.05)" font-size="13.33" text-anchor="end">-1</text><text transform="translate(64.0 250.63) rotate(0.1) scale(1 1.05)" font-size="13.33" text-anchor="end">-2</text><text transform="translate(64.0 288.85) rotate(0.1) scale(1 1.05)" font-size="13.33" text-anchor="end">-3</text><text transform="translate(71.85 302.9) rotate(0.1) scale(1 1.05)" font-size="13.33" text-anchor="middle">0</text><text transform="translate(110.16 302.9) rotate(0.1) scale(1 1.05)" font-size="13.33" text-anchor="middle">10</text><text transform="translate(148.48 302.9) rotate(0.1) scale(1 1.05)" font-size="13.33" text-anchor="middle">20</text><text transform="translate(186.79 302.9) rotate(0.1) scale(1 1.05)" font-size="13.33" text-anchor="middle">30</text><text transform="translate(225.11 302.9) rotate(0.1) scale(1 1.05)" font-size="13.33" text-anchor="middle">40</text><text transform="translate(263.42 302.9) rotate(0.1) scale(1 1.05)" font-size="13.33" text-anchor="middle">50</text><text transform="translate(301.74 302.9) rotate(0.1) scale(1 1.05)" font-size="13.33" text-anchor="middle">60</text><text transform="translate(340.05 302.9) rotate(0.1) scale(1 1.05)" font-size="13.33" text-anchor="middle">70</text><text transform="translate(378.37 302.9) rotate(0.1) scale(1 1.05)" font-size="13.33" text-anchor="middle">80</text><text transform="translate(416.68 302.9) rotate(0.1) scale(1 1.05)" font-size="13.33" text-anchor="middle">90</text><text transform="translate(455.00 302.9) rotate(0.1) scale(1 1.05)" font-size="13.33" text-anchor="middle">100</text><text transform="translate(79.6 32.00) rotate(0.1) scale(1 1.05)" font-size="13.33" text-anchor="start" letter-spacing="0.35">QRPA</text><text transform="translate(79.6 45.32) rotate(0.1) scale(1 1.05)" font-size="13.33" text-anchor="start">sum</text><text transform="translate(79.6 60.14) rotate(0.1) scale(1 1.05)" font-size="13.33" text-anchor="start">0<tspan font-size="10.67" dy="-5.5">+</tspan></text><text transform="translate(79.6 73.46) rotate(0.1) scale(1 1.05)" font-size="13.33" text-anchor="start">0<tspan font-size="10.67" dy="-5.5">-</tspan></text><text transform="translate(79.6 86.78) rotate(0.1) scale(1 1.05)" font-size="13.33" text-anchor="start">1<tspan font-size="10.67" dy="-5.5">-</tspan></text><text transform="translate(79.6 100.10) rotate(0.1) scale(1 1.05)" font-size="13.33" text-anchor="start">1<tspan font-size="10.67" dy="-5.5">+</tspan></text><text transform="translate(79.6 113.42) rotate(0.1) scale(1 1.05)" font-size="13.33" text-anchor="start">2<tspan font-size="10.67" dy="-5.5">+</tspan></text><text transform="translate(79.6 126.74) rotate(0.1) scale(1 1.05)" font-size="13.33" text-anchor="start">2<tspan font-size="10.67" dy="-5.5">-</tspan></text><text transform="translate(79.6 140.06) rotate(0.1) scale(1 1.05)" font-size="13.33" text-anchor="start">3<tspan font-size="10.67" dy="-5.5">-</tspan></text><text transform="translate(79.6 153.38) rotate(0.1) scale(1 1.05)" font-size="13.33" text-anchor="start">3<tspan font-size="10.67" dy="-5.5">+</tspan></text><text transform="translate(263.5 41.8) rotate(0.1) scale(1 1.05)" font-size="13.33" text-anchor="start"><tspan font-size="10.67" dy="-6.9">12</tspan><tspan dy="6.9">C</tspan></text><text transform="translate(263.5 321.7) rotate(0.1) scale(1 1.05)" font-size="13.33" text-anchor="middle">E<tspan font-size="10.67" dy="3.5">&#957;</tspan><tspan dy="-3.5">[MeV]</tspan></text><text transform="translate(37.7,150.5) rotate(-89.9) scale(1 1.05)" font-size="13.33" text-anchor="middle">log<tspan font-size="10.67" dy="3.5">10</tspan><tspan dy="-3.5">(&#963;</tspan><tspan font-size="10.67" dy="3.5">&#957;</tspan><tspan dy="-3.5">(E</tspan><tspan font-size="10.67" dy="3.5">&#957;</tspan><tspan dy="-3.5">)[10</tspan><tspan font-size="10.67" dy="-6.5">-42</tspan><tspan dy="6.5">cm</tspan><tspan font-size="10.67" dy="-6.5">2</tspan><tspan dy="6.5">])</tspan></text></g>
</svg>
</body></html>
